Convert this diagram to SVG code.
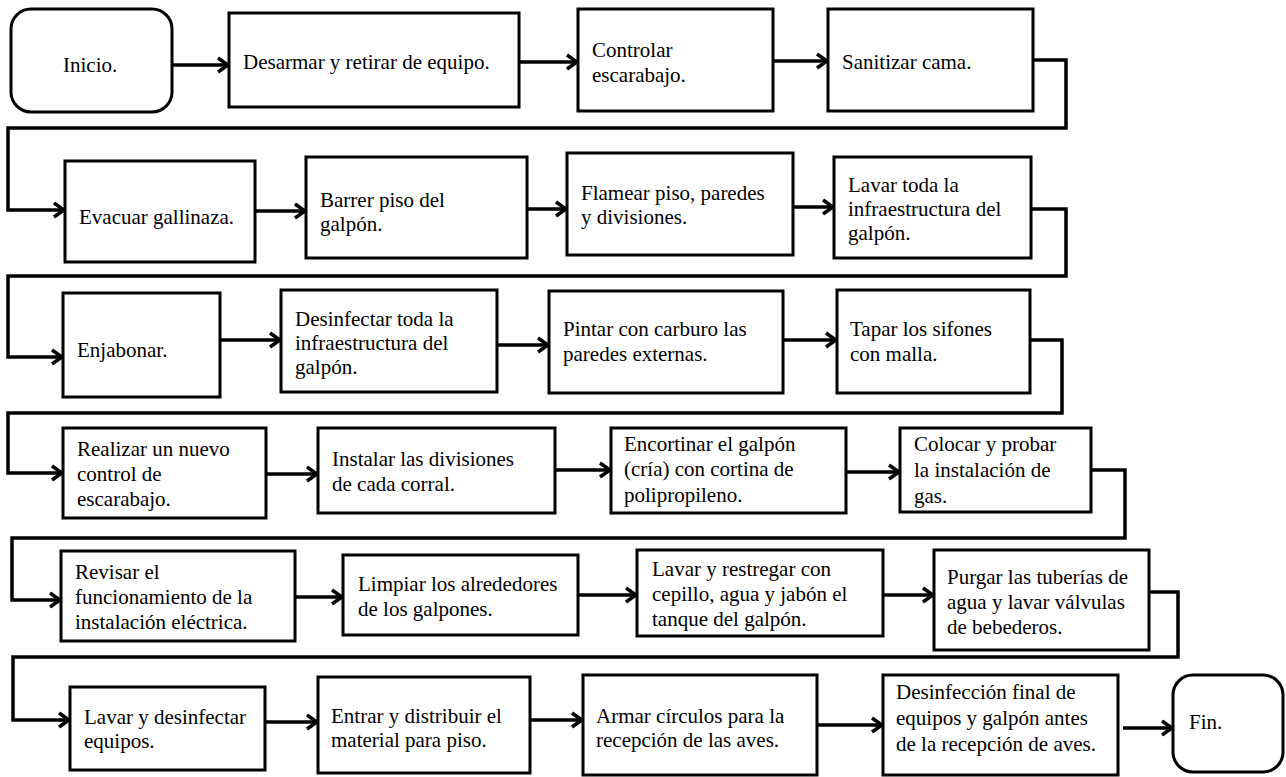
<svg xmlns="http://www.w3.org/2000/svg" width="1286" height="777" viewBox="0 0 1286 777">
<style>
.b{fill:#fff;stroke:#000;stroke-width:3}
.t{font-family:'Liberation Serif','Times New Roman',serif;font-size:21px;fill:#000}
.c{fill:none;stroke:#000;stroke-width:3.5;stroke-linejoin:miter}
</style>
<defs>
<marker id="ah" markerUnits="userSpaceOnUse" markerWidth="16" markerHeight="18" refX="13" refY="9" orient="auto">
<path d="M3,2 L13,9 L3,16" fill="none" stroke="#000" stroke-width="3.5"/>
</marker>
</defs>
<rect width="1286" height="777" fill="#fff"/>
<g id="connectors">
<path class="c" marker-end="url(#ah)" d="M172,65 H228"/>
<path class="c" marker-end="url(#ah)" d="M519,62 H577"/>
<path class="c" marker-end="url(#ah)" d="M773,61 H827"/>
<path class="c" marker-end="url(#ah)" d="M1033,60 H1066 V128 H8 V210 H64"/>
<path class="c" marker-end="url(#ah)" d="M255,211 H305"/>
<path class="c" marker-end="url(#ah)" d="M527,209 H566"/>
<path class="c" marker-end="url(#ah)" d="M793,207 H833"/>
<path class="c" marker-end="url(#ah)" d="M1031,209 H1066 V276 H8 V357 H62"/>
<path class="c" marker-end="url(#ah)" d="M220,340 H280"/>
<path class="c" marker-end="url(#ah)" d="M497,345 H548"/>
<path class="c" marker-end="url(#ah)" d="M783,340 H836"/>
<path class="c" marker-end="url(#ah)" d="M1030,340 H1062 V413 H8 V473 H62"/>
<path class="c" marker-end="url(#ah)" d="M266,474 H317"/>
<path class="c" marker-end="url(#ah)" d="M555,470 H610"/>
<path class="c" marker-end="url(#ah)" d="M846,472 H899"/>
<path class="c" marker-end="url(#ah)" d="M1091,470 H1125 V538 H12 V600 H60"/>
<path class="c" marker-end="url(#ah)" d="M295,597 H342"/>
<path class="c" marker-end="url(#ah)" d="M578,595 H636"/>
<path class="c" marker-end="url(#ah)" d="M883,595 H933"/>
<path class="c" marker-end="url(#ah)" d="M1149,592 H1178 V657 H13 V720 H69"/>
<path class="c" marker-end="url(#ah)" d="M265,722 H317"/>
<path class="c" marker-end="url(#ah)" d="M530,720 H582"/>
<path class="c" marker-end="url(#ah)" d="M817,725 H882"/>
<path class="c" marker-end="url(#ah)" d="M1123,728 H1172"/>
</g>
<g id="n1"><rect class="b" x="11" y="9" width="161" height="103" rx="20"/><text class="t" x="63" y="72">Inicio.</text></g>
<g id="n2"><rect class="b" x="229" y="13" width="290" height="94"/><text class="t" x="243" y="69">Desarmar y retirar  de equipo.</text></g>
<g id="n3"><rect class="b" x="578" y="9" width="195" height="102"/><text class="t" x="592" y="57">Controlar</text><text class="t" x="592" y="82">escarabajo.</text></g>
<g id="n4"><rect class="b" x="828" y="9" width="205" height="102"/><text class="t" x="842" y="69">Sanitizar  cama.</text></g>
<g id="n5"><rect class="b" x="65" y="161" width="190" height="101"/><text class="t" x="79" y="224">Evacuar gallinaza.</text></g>
<g id="n6"><rect class="b" x="306" y="157" width="221" height="101"/><text class="t" x="320" y="207">Barrer piso del</text><text class="t" x="320" y="231">galpón.</text></g>
<g id="n7"><rect class="b" x="567" y="153" width="226" height="102"/><text class="t" x="581" y="200">Flamear piso, paredes</text><text class="t" x="581" y="224">y divisiones.</text></g>
<g id="n8"><rect class="b" x="834" y="157" width="197" height="101"/><text class="t" x="848" y="192">Lavar toda la</text><text class="t" x="848" y="216">infraestructura del</text><text class="t" x="848" y="240">galpón.</text></g>
<g id="n9"><rect class="b" x="63" y="293" width="157" height="104"/><text class="t" x="77" y="357">Enjabonar.</text></g>
<g id="n10"><rect class="b" x="281" y="290" width="216" height="102"/><text class="t" x="295" y="326">Desinfectar toda la</text><text class="t" x="295" y="350">infraestructura del</text><text class="t" x="295" y="374">galpón.</text></g>
<g id="n11"><rect class="b" x="549" y="291" width="234" height="102"/><text class="t" x="563" y="336">Pintar con carburo las</text><text class="t" x="563" y="361">paredes externas.</text></g>
<g id="n12"><rect class="b" x="837" y="290" width="193" height="103"/><text class="t" x="850" y="336">Tapar los sifones</text><text class="t" x="850" y="361">con malla.</text></g>
<g id="n13"><rect class="b" x="63" y="428" width="203" height="90"/><text class="t" x="77" y="456">Realizar  un nuevo</text><text class="t" x="77" y="481">control de</text><text class="t" x="77" y="506">escarabajo.</text></g>
<g id="n14"><rect class="b" x="318" y="428" width="237" height="85"/><text class="t" x="332" y="466">Instalar las divisiones</text><text class="t" x="332" y="491">de cada corral.</text></g>
<g id="n15"><rect class="b" x="611" y="428" width="235" height="85"/><text class="t" x="624" y="451">Encortinar el galpón</text><text class="t" x="624" y="476">(cría) con cortina de</text><text class="t" x="624" y="502">polipropileno.</text></g>
<g id="n16"><rect class="b" x="900" y="428" width="191" height="84"/><text class="t" x="914" y="451">Colocar y probar</text><text class="t" x="914" y="477">la instalación  de</text><text class="t" x="914" y="503">gas.</text></g>
<g id="n17"><rect class="b" x="61" y="551" width="234" height="90"/><text class="t" x="75" y="579">Revisar el</text><text class="t" x="75" y="604">funcionamiento de la</text><text class="t" x="75" y="629">instalación  eléctrica.</text></g>
<g id="n18"><rect class="b" x="343" y="555" width="235" height="80"/><text class="t" x="358" y="591">Limpiar los alrededores</text><text class="t" x="358" y="616">de los galpones.</text></g>
<g id="n19"><rect class="b" x="637" y="550" width="246" height="86"/><text class="t" x="652" y="576">Lavar y restregar  con</text><text class="t" x="652" y="601">cepillo,  agua y jabón el</text><text class="t" x="652" y="626">tanque del galpón.</text></g>
<g id="n20"><rect class="b" x="934" y="550" width="215" height="100"/><text class="t" x="947" y="584">Purgar las tuberías de</text><text class="t" x="947" y="609">agua y lavar  válvulas</text><text class="t" x="947" y="634">de bebederos.</text></g>
<g id="n21"><rect class="b" x="70" y="687" width="195" height="83"/><text class="t" x="84" y="724">Lavar y desinfectar</text><text class="t" x="84" y="748">equipos.</text></g>
<g id="n22"><rect class="b" x="318" y="677" width="212" height="96"/><text class="t" x="331" y="723">Entrar y distribuir el</text><text class="t" x="331" y="747">material para piso.</text></g>
<g id="n23"><rect class="b" x="583" y="675" width="234" height="100"/><text class="t" x="596" y="723">Armar círculos para la</text><text class="t" x="596" y="747">recepción de las aves.</text></g>
<g id="n24"><rect class="b" x="883" y="675" width="235" height="100"/><text class="t" x="896" y="699">Desinfección  final de</text><text class="t" x="896" y="725">equipos y galpón antes</text><text class="t" x="896" y="751">de la recepción de aves.</text></g>
<g id="n25"><rect class="b" x="1173" y="675" width="110" height="97" rx="20"/><text class="t" x="1189" y="729">Fin.</text></g>
</svg>
